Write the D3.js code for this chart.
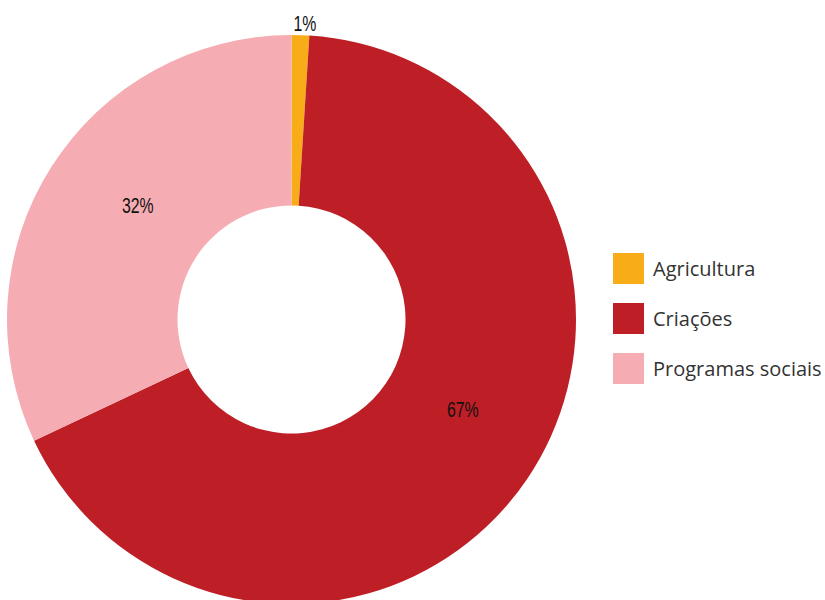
<!DOCTYPE html>
<html><head><meta charset="utf-8">
<script src="https://cdn.jsdelivr.net/npm/d3@7"></script>
<style>body{margin:0;background:#fff}</style>
</head><body>
<svg id="c" width="825" height="600"></svg>
<script>
const categories = ["Agricultura", "Criações", "Programas sociais"];
const values = [1, 67, 32];
const labels = ["1%", "67%", "32%"];
const colors = ["#F8AD18", "#BE1E26", "#F5ACB2"];

const svg = d3.select("#c");
const cx = 291.5, cy = 319.5, R = 284.5, r0 = 114;
const g = svg.append("g").attr("transform", `translate(${cx},${cy})`);
const pie = d3.pie().sort(null).value(d => d)(values);
const arc = d3.arc().innerRadius(r0).outerRadius(R);
g.selectAll("path").data(pie).enter().append("path")
  .attr("d", arc).attr("fill", (d, i) => colors[i]);

const nudges = [[4,0],[10,-20],[11,-10]];
g.selectAll("text.lbl").data(pie).enter().append("text")
  .attr("class", "lbl")
  .attr("transform", (d, i) => {
    const rr = i === 0 ? 297 : 195;
    const c = d3.arc().innerRadius(rr).outerRadius(rr).centroid(d);
    return `translate(${c[0] + nudges[i][0]},${c[1] + nudges[i][1]}) scale(0.72,1)`;
  })
  .attr("text-anchor", "middle").attr("dy", "0.36em")
  .style("font-family", "'Liberation Sans',Arial,sans-serif").style("font-size", "22px")
  .attr("fill", "#111")
  .text((d, i) => labels[i]);

const leg = svg.append("g").attr("transform", "translate(613,253)");
const rows = leg.selectAll("g").data(categories).enter().append("g")
  .attr("transform", (d, i) => `translate(0,${i * 50})`);
rows.append("rect").attr("width", 31).attr("height", 31).attr("fill", (d, i) => colors[i]);
rows.append("text").attr("x", 40).attr("y", 23)
  .style("font-family", "'Open Sans','Noto Sans',sans-serif").style("font-size", "20px")
  .attr("fill", "#333").text(d => d);
</script>
</body></html>
